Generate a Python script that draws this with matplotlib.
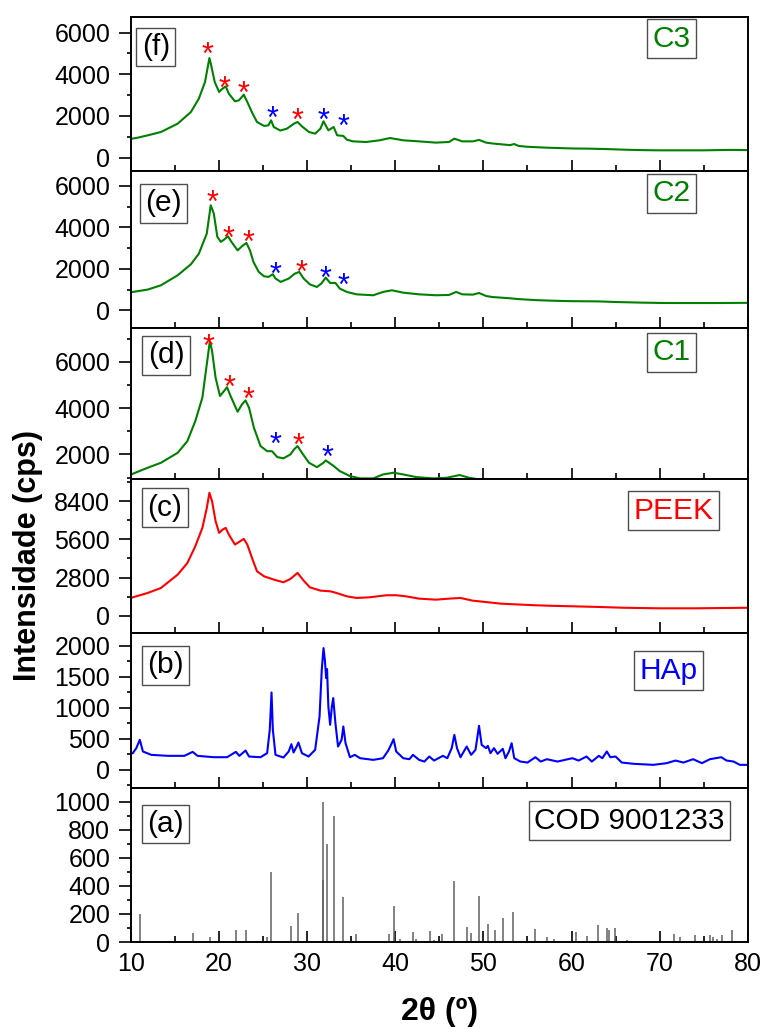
import numpy as np
import matplotlib
matplotlib.use("Agg")
import matplotlib.pyplot as plt
from matplotlib.ticker import MultipleLocator, FixedLocator
from matplotlib.transforms import offset_copy

plt.rcParams['font.family'] = ['Liberation Sans', 'DejaVu Sans']

# ---- data (2theta in degrees, intensity in cps) ----
c3_pts = [(10.0, 900), (10.8, 960), (11.9, 1070), (13.4, 1230), (15.3, 1630), (16.8, 2190),
          (17.7, 2830), (18.4, 3630), (18.9, 4780), (19.1, 4430), (19.5, 3630), (20.0, 3150),
          (20.3, 3280), (20.75, 3420), (21.1, 3070), (21.8, 2700), (22.25, 2750), (22.8, 3020),
          (23.2, 2670), (23.8, 2110), (24.3, 1710), (25.1, 1520), (25.6, 1550), (25.9, 1790),
          (26.2, 1470), (26.95, 1300), (27.7, 1390), (28.5, 1630), (28.9, 1710), (29.4, 1500),
          (30.2, 1230), (30.9, 1150), (31.5, 1390), (31.85, 1745), (32.4, 1310), (33.0, 1470),
          (33.4, 1070), (34.1, 1040), (34.5, 860), (35.2, 780), (36.7, 750), (38.2, 830),
          (39.4, 940), (40.9, 830), (42.7, 780), (44.6, 720), (46.1, 750), (46.7, 910),
          (47.6, 780), (48.8, 780), (49.5, 850), (50.3, 720), (51, 680), (52, 640), (53, 600),
          (53.5, 650), (54, 560), (55, 520), (57, 480), (60, 440), (62, 430), (64, 410),
          (66, 380), (68, 360), (70, 350), (72, 350), (75, 350), (78, 370), (80, 360)]

c2_pts = [(10.0, 870), (10.2, 884), (11.9, 1000), (13.4, 1205), (15.3, 1690), (16.8, 2220),
          (17.7, 2730), (18.6, 3700), (19.05, 5065), (19.4, 4660), (19.8, 3540), (20.2, 3300),
          (20.6, 3420), (21.0, 3570), (21.4, 3300), (22.1, 2890), (22.6, 3090), (23.1, 3250),
          (23.5, 2890), (23.9, 2330), (24.5, 1850), (25.1, 1640), (25.6, 1610), (26.1, 1740),
          (26.4, 1530), (27.0, 1370), (27.9, 1530), (28.6, 1770), (29.1, 1850), (29.6, 1530),
          (30.3, 1250), (31.1, 1125), (31.6, 1290), (32.1, 1575), (32.6, 1320), (33.2, 1320),
          (33.7, 1045), (34.5, 885), (35.6, 770), (37.5, 725), (38.6, 885), (39.6, 965),
          (40.9, 850), (42.7, 770), (44.6, 725), (46.1, 740), (46.9, 885), (47.6, 770),
          (48.8, 755), (49.5, 835), (50.3, 690), (51, 640), (52, 610), (53, 580), (54, 540),
          (56, 490), (58, 460), (60, 440), (63, 430), (65, 400), (68, 370), (70, 355),
          (73, 350), (76, 350), (80, 360)]

c1_pts = [(10.0, 1120), (10.2, 1165), (11.9, 1425), (13.4, 1640), (15.3, 2070), (16.4, 2575),
          (17.3, 3440), (18.1, 4450), (18.65, 6030), (18.95, 6890), (19.2, 6460), (19.6, 5310),
          (20.1, 4520), (20.55, 4730), (20.9, 4900), (21.3, 4520), (22.1, 3840), (22.6, 4160),
          (23.0, 4330), (23.4, 4010), (23.95, 3150), (24.7, 2360), (25.45, 2140), (26.0, 2140),
          (26.6, 1885), (27.3, 1830), (28.1, 2000), (28.5, 2215), (28.9, 2360), (29.4, 2070),
          (30.2, 1640), (31.1, 1450), (31.85, 1640), (32.1, 1740), (33.0, 1500), (33.7, 1280),
          (34.85, 1065), (36.0, 965), (37.5, 965), (38.6, 1135), (39.8, 1210), (40.9, 1135),
          (42.4, 1020), (44.3, 965), (45.8, 990), (47.3, 1110), (48.4, 990), (49.5, 920),
          (50.5, 880), (52, 820)]

peek_pts = [(10.0, 1300), (10.2, 1348), (11.9, 1667), (13.4, 2034), (15.3, 3015), (16.4, 3870),
            (17.3, 5100), (18.1, 6446), (18.6, 7900), (18.9, 9020), (19.2, 8400), (19.6, 6940),
            (20.0, 6080), (20.4, 6320), (20.75, 6446), (21.1, 5960), (21.8, 5220), (22.4, 5470),
            (22.8, 5640), (23.2, 5220), (23.8, 4120), (24.3, 3260), (25.1, 2890), (26.2, 2650),
            (27.3, 2450), (28.1, 2700), (28.9, 3140), (29.6, 2570), (30.3, 2080), (31.5, 1840),
            (32.6, 1790), (33.3, 1670), (34.5, 1420), (35.6, 1300), (37.1, 1350), (39.0, 1500),
            (40.1, 1500), (41.2, 1420), (42.7, 1250), (44.6, 1176), (46.1, 1250), (47.4, 1300),
            (48.8, 1100), (50.3, 1000), (52, 880), (54, 820), (56, 760), (58, 720), (60, 690),
            (63, 640), (66, 580), (70, 540), (74, 540), (77, 560), (80, 580)]

hap_pts = [(10.0, 260), (10.2, 269), (10.6, 350), (11.0, 484), (11.35, 296), (12.3, 242),
           (14.2, 226), (16.05, 226), (17.0, 290), (17.55, 226), (19.4, 204), (20.9, 204),
           (21.9, 290), (22.3, 226), (23.0, 312), (23.4, 215), (24.7, 204), (25.45, 269),
           (25.75, 645), (25.95, 1247), (26.1, 645), (26.4, 242), (27.3, 199), (27.9, 296),
           (28.2, 414), (28.45, 280), (28.8, 376), (29.0, 441), (29.4, 269), (30.15, 215),
           (30.9, 323), (31.4, 860), (31.65, 1613), (31.85, 1962), (32.0, 1774), (32.15, 1478),
           (32.25, 1624), (32.4, 1021), (32.6, 726), (32.8, 1021), (32.95, 1156), (33.2, 753),
           (33.5, 376), (33.9, 484), (34.1, 699), (34.35, 430), (34.85, 204), (35.4, 242),
           (36.0, 188), (37.5, 161), (38.6, 188), (39.2, 312), (39.6, 430), (39.8, 495),
           (40.1, 296), (40.9, 188), (41.6, 172), (42.0, 242), (42.7, 161), (43.3, 134),
           (43.85, 215), (44.4, 150), (45.4, 226), (45.9, 188), (46.4, 350), (46.7, 564),
           (47.0, 350), (47.4, 204), (48.1, 376), (48.6, 242), (49.1, 323), (49.5, 710),
           (49.8, 403), (50.3, 350), (50.5, 387), (50.8, 269), (51.2, 350), (51.6, 258),
           (52.2, 339), (52.5, 188), (52.9, 296), (53.2, 430), (53.5, 188), (54.2, 134),
           (55.0, 118), (55.9, 204), (56.5, 134), (57.2, 172), (58.4, 134), (60.1, 188),
           (60.8, 150), (61.7, 215), (62.3, 134), (63.1, 226), (63.5, 188), (64.0, 296),
           (64.4, 204), (65.0, 215), (65.7, 118), (67.1, 97), (69.3, 81), (70.8, 108),
           (71.8, 150), (72.7, 118), (73.8, 172), (74.8, 108), (75.7, 172), (77.0, 204),
           (77.6, 150), (78.4, 134), (79.1, 81), (80.0, 81)]

# COD 9001233 reference pattern (position, relative intensity)
cod_pos = [11.0, 17.0, 19.0, 21.9, 23.0, 25.45, 25.9, 28.2, 29.0, 31.75, 31.8, 32.2, 33.0,
           34.1, 35.5, 39.3, 39.85, 40.5, 42.0, 42.4, 43.9, 44.4, 45.3, 46.7, 48.1, 48.6,
           49.5, 50.5, 51.3, 52.2, 53.3, 55.9, 57.2, 58.0, 60.5, 61.7, 63.0, 64.0, 64.2,
           64.9, 66.3, 71.6, 72.3, 74.0, 75.7, 76.1, 76.5, 77.1, 78.2]
cod_int = [202, 64, 33, 86, 86, 33, 500, 112, 210, 440, 1000, 695, 900,
           321, 60, 60, 257, 24, 69, 19, 76, 12, 55, 436, 107, 64,
           326, 126, 88, 174, 214, 90, 36, 24, 71, 43, 124, 102, 83,
           100, 12, 55, 36, 48, 48, 36, 24, 48, 83]

# starred peaks (red: PEEK, blue: HAp)
c3_red = [(18.72, 5312), (20.56, 3712), (22.82, 3440), (28.87, 2160)]
c3_blue = [(26.09, 2240), (31.88, 2160), (34.14, 1872)]
c2_red = [(19.25, 5579), (21.02, 3826), (23.35, 3650), (29.32, 2203)]
c2_blue = [(26.43, 2090), (32.07, 1929), (34.14, 1559)]
c1_red = [(18.80, 6993), (21.13, 5237), (23.31, 4705), (29.06, 2719)]
c1_blue = [(26.43, 2791), (32.29, 2216)]

GREEN = '#008000'
RED = '#ff0000'
BLUE = '#0000ff'

fig = plt.figure(figsize=(7.63, 10.29), dpi=100)
gs = fig.add_gridspec(6, 1, hspace=0, height_ratios=[154, 157, 150, 154, 155, 154],
                      left=0.1717, right=0.980, top=0.9835, bottom=0.0845)
axes = [fig.add_subplot(gs[i]) for i in range(6)]

panels = [
    # tag, label, colour, points, ylim, major, minor, red stars, blue stars
    ('(f)', 'C3', GREEN, c3_pts, (-650, 6750), [0, 2000, 4000, 6000], 1000, c3_red, c3_blue),
    ('(e)', 'C2', GREEN, c2_pts, (-870, 6710), [0, 2000, 4000, 6000], 1000, c2_red, c2_blue),
    ('(d)', 'C1', GREEN, c1_pts, (960, 7440), [2000, 4000, 6000], 1000, c1_red, c1_blue),
    ('(c)', 'PEEK', RED, peek_pts, (-1250, 10070), [0, 2800, 5600, 8400], 1400, [], []),
    ('(b)', 'HAp', BLUE, hap_pts, (-290, 2210), [0, 500, 1000, 1500, 2000], 250, [], []),
    ('(a)', 'COD 9001233', 'black', None, (0, 1098), [0, 200, 400, 600, 800, 1000], 100, [], []),
]

tag_pos = [(0.0403, 0.805), (0.053, 0.796), (0.057, 0.82), (0.055, 0.81), (0.056, 0.789), (0.056, 0.766)]
lab_pos = [(0.877, 0.859), (0.876, 0.86), (0.877, 0.84), (0.88, 0.792), (0.872, 0.755), (0.808, 0.788)]

for i, (ax, p) in enumerate(zip(axes, panels)):
    tag, lab, col, pts, ylim, major, minor, reds, blues = p
    if pts is not None:
        arr = np.array(pts, dtype=float)
        ax.plot(arr[:, 0], arr[:, 1], color=col, lw=1.5)
    else:
        ax.vlines(cod_pos, 0, cod_int, color='#606060', lw=1.1)

    star_tr = offset_copy(ax.transData, fig=fig, y=-12.5, units='points')
    for pos, c in ((reds, RED), (blues, BLUE)):
        for sx, sy in pos:
            ax.text(sx, sy, '*', color=c, fontsize=22, ha='center', va='baseline',
                    transform=star_tr)

    ax.set_xlim(10, 80)
    ax.set_ylim(*ylim)
    ax.xaxis.set_major_locator(MultipleLocator(10))
    ax.xaxis.set_minor_locator(MultipleLocator(5))
    ax.yaxis.set_major_locator(FixedLocator(major))
    ax.yaxis.set_minor_locator(MultipleLocator(minor))
    ax.tick_params(axis='x', which='both', direction='in', top=False, bottom=True,
                   labelbottom=(i == 5), labelsize=18, pad=7)
    ax.tick_params(axis='x', which='major', length=8, width=1.2)
    ax.tick_params(axis='x', which='minor', length=4, width=1.2)
    ax.tick_params(axis='y', which='both', direction='out', right=False, labelsize=18, pad=6.5)
    ax.tick_params(axis='y', which='major', length=8.5, width=1.2)
    ax.tick_params(axis='y', which='minor', length=3, width=1.2)
    for s in ax.spines.values():
        s.set_linewidth(1.4)

    box = dict(boxstyle='square,pad=0.18', fc='white', ec='0.3', lw=1)
    ax.text(*tag_pos[i], tag, transform=ax.transAxes, fontsize=21.5, ha='center',
            va='center', bbox=box, zorder=5)
    ax.text(*lab_pos[i], lab, transform=ax.transAxes, fontsize=21.5, color=col,
            ha='center', va='center', bbox=box, zorder=5)

fig.text(0.037, 0.46, 'Intensidade (cps)', rotation=90, fontsize=22, fontweight='bold',
         ha='center', va='center')
fig.text(0.576, 0.0165, '2θ (º)', fontsize=23, fontweight='bold', ha='center', va='center')

fig.savefig('out.png', dpi=100)
